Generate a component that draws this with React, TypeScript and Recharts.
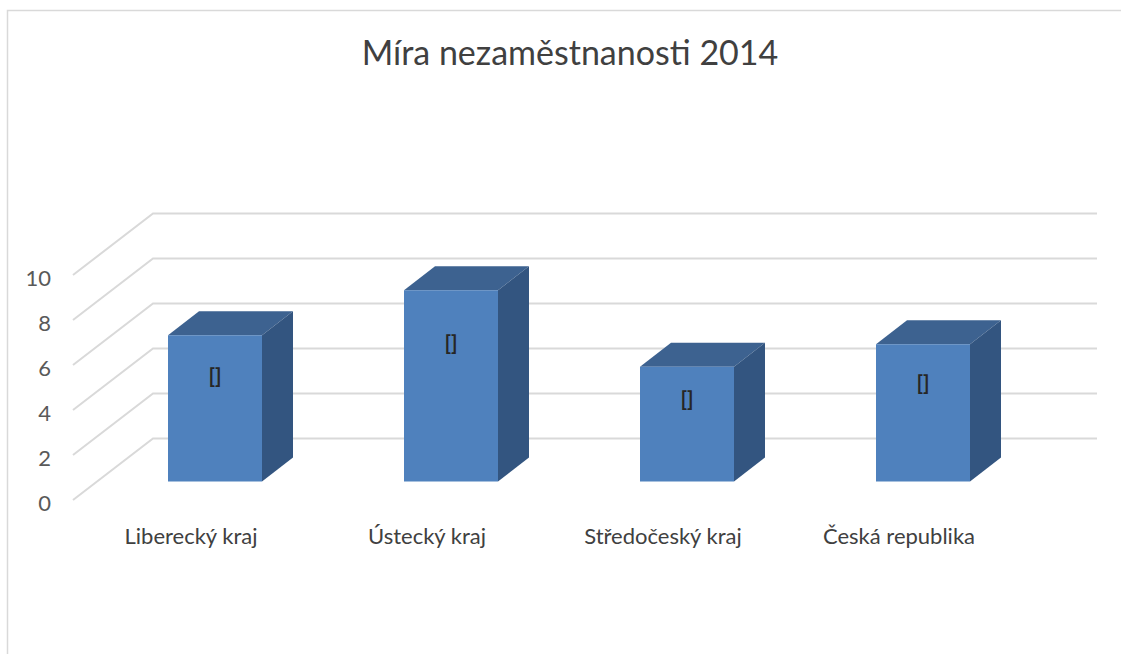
import React from 'react';
import { BarChart, Bar, XAxis, YAxis, CartesianGrid, LabelList } from 'recharts';

const regions = ['Liberecký kraj', 'Ústecký kraj', 'Středočeský kraj', 'Česká republika'];
const rates = [6.5, 8.5, 5.1, 6.1];
const pointLabels = ['[]', '[]', '[]', '[]'];
const yTicks = [0, 2, 4, 6, 8, 10];

const data = regions.map((name, i) => ({ name, rate: rates[i], label: pointLabels[i] }));

// oblique "3D" offsets in px
const DEPTH_X = 31;
const DEPTH_Y = 24;
const BACK_X = 56;
const BACK_Y = 43;
const FRONT_X = 24;
const FRONT_Y = 18.5;

const FONT = 'Lato, "Open Sans", sans-serif';

const Box = (props: any) => {
  const { x, y, width, height } = props;
  if (height == null || height <= 0) return null;
  const top = `${x},${y} ${x + DEPTH_X},${y - DEPTH_Y} ${x + width + DEPTH_X},${y - DEPTH_Y} ${x + width},${y}`;
  const side = `${x + width},${y} ${x + width + DEPTH_X},${y - DEPTH_Y} ${x + width + DEPTH_X},${y + height - DEPTH_Y} ${x + width},${y + height}`;
  return (
    <g>
      <polygon points={top} fill="#3d6290" />
      <polygon points={side} fill="#335580" />
      <rect x={x} y={y} width={width} height={height} fill="#4f81bd" />
    </g>
  );
};

const gridLine = (p: any) => {
  const { x1, x2, y1 } = p;
  return (
    <path
      key={p.key}
      d={`M${x1 - FRONT_X},${y1 + FRONT_Y} L${x1 + BACK_X},${y1 - BACK_Y} L${x2 + BACK_X},${y1 - BACK_Y}`}
      stroke="#d9d9d9"
      strokeWidth={2}
      fill="none"
    />
  );
};

const YTick = (p: any) => (
  <text x={p.x - 44} y={p.y + FRONT_Y + 2} textAnchor="end" dominantBaseline="central"
    fill="#595959" fontSize={22} fontFamily={FONT}>
    {p.payload.value}
  </text>
);

const XTick = (p: any) => (
  <text x={p.x - FRONT_X} y={p.y + 52} textAnchor="middle" dominantBaseline="central"
    fill="#404040" fontSize={22} fontFamily={FONT}>
    {p.payload.value}
  </text>
);

const PointLabel = (p: any) => (
  <text x={p.x + p.width / 2} y={p.y + p.height * 0.27} textAnchor="middle" dominantBaseline="central"
    fill="#262626" fontSize={21} fontWeight="bold" fontFamily={FONT}>
    {p.value}
  </text>
);

export default function App() {
  return (
    <div style={{ position: 'absolute', left: 0, top: 0, width: 1121, height: 654, overflow: 'hidden', background: '#fff' }}>
      <svg width={1121} height={654} style={{ position: 'absolute', left: 0, top: 0 }}>
        <path d="M7.5,654 V10.5 H1121" stroke="#d9d9d9" strokeWidth={1.5} fill="none" />
      </svg>
      <div style={{ position: 'absolute', left: 0, top: 31, width: 1140, textAlign: 'center', fontFamily: FONT, fontSize: 34, color: '#404040', lineHeight: 'normal' }}>
        Míra nezaměstnanosti 2014
      </div>
      <div style={{ position: 'absolute', left: 0, top: 0 }}>
        <BarChart width={1121} height={654} data={data} style={{ outline: 'none' }}
          margin={{ top: 256.5, right: 80, bottom: 142.5, left: 37 }}>
          <CartesianGrid vertical={false} horizontal={gridLine} />
          <XAxis dataKey="name" axisLine={false} tickLine={false} tickSize={0} height={30} tick={XTick} interval={0} />
          <YAxis domain={[0, 10]} ticks={yTicks} axisLine={false} tickLine={false} tickSize={0} width={60} tick={YTick} />
          <Bar dataKey="rate" barSize={94} shape={Box} isAnimationActive={false}>
            <LabelList dataKey="label" content={PointLabel} />
          </Bar>
        </BarChart>
      </div>
    </div>
  );
}
